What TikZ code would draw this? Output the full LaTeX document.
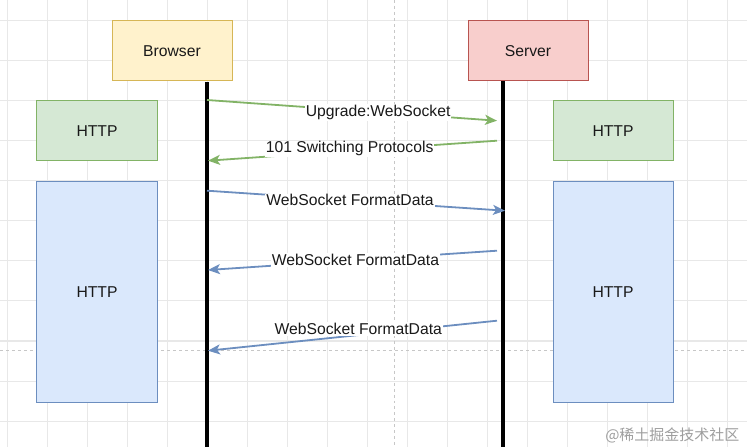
\documentclass[tikz,border=0pt]{standalone}
\usepackage{fontspec}
\setmainfont{Liberation Sans}
\newfontfamily\cjkfont{Noto Sans CJK SC}
\usetikzlibrary{arrows.meta,positioning}
\definecolor{gridgray}{HTML}{E8E8E8}
\definecolor{yfill}{HTML}{FFF2CC}\definecolor{ydraw}{HTML}{D6B656}
\definecolor{rfill}{HTML}{F8CECC}\definecolor{rdraw}{HTML}{B85450}
\definecolor{gfill}{HTML}{D5E8D4}\definecolor{gdraw}{HTML}{82B366}
\definecolor{bfill}{HTML}{DAE8FC}\definecolor{bdraw}{HTML}{6C8EBF}

\begin{document}
\begin{tikzpicture}[x=1bp,y=-1bp,
    font=\fontsize{15.7bp}{19bp}\selectfont,
    box/.style={draw,line width=1bp,minimum width=120bp,minimum height=60bp,inner sep=0pt,text=black!90},
    life/.style={line width=4bp},
    msg/.style={line width=1.8bp,-{Stealth[length=12bp,width=10bp,inset=3bp]}},
    lbl/.style={fill=white,inner sep=1bp,text=black!90}]

        \useasboundingbox (0,0) rectangle (747,447);

        % Lưới nền
        \foreach \x in {7,47,...,747} \draw[gridgray,line width=1bp] (\x,0) -- (\x,447);
        \foreach \y in {21,61,...,447} \draw[gridgray,line width=1bp] (0,\y) -- (747,\y);
        \draw[black!22,dashed,line width=1bp] (394,0) -- (394,447); % đường đứt dọc
        \draw[black!22,dashed,line width=1bp] (0,350) -- (747,350); % đường đứt ngang

        % Các khối
        \node[box,fill=yfill,draw=ydraw] (browser) at (172,51) {Browser};
        \node[box,fill=rfill,draw=rdraw] (server) at (528,51) {Server};
        \node[box,fill=gfill,draw=gdraw] (httpL) at (97,131) {HTTP};
        \node[box,fill=gfill,draw=gdraw] (httpR) at (613,131) {HTTP};
        \node[box,fill=bfill,draw=bdraw,minimum height=220bp,below=20bp of httpL] (wsL) {HTTP};
        \node[box,fill=bfill,draw=bdraw,minimum height=220bp,below=20bp of httpR] (wsR) {HTTP};

        % Đường sống
        \coordinate (bt) at (207,82); \coordinate (bb) at (207,447);
        \coordinate (st) at (503,81); \coordinate (sb) at (503,447);
        \draw[life] (bt) -- (bb);
        \draw[life] (st) -- (sb);

        % Các điểm đầu, cuối thông điệp
        \coordinate (b1) at (207,100);   \coordinate (s1) at (497,120.7);
        \coordinate (s2) at (497,140.7); \coordinate (b2) at (208,160.7);
        \coordinate (b3) at (207,190.7); \coordinate (s3) at (505,210.7);
        \coordinate (s4) at (497,250.7); \coordinate (b4) at (208,270);
        \coordinate (s5) at (497,320.7); \coordinate (b5) at (208,350.7);

        % Thông điệp
        \draw[msg,gdraw] (b1) -- node[lbl,pos=.59] (m1) {Upgrade:WebSocket} (s1);
        \draw[msg,gdraw] (s2) -- node[lbl,pos=.51,yshift=2bp] (m2) {101 Switching Protocols} (b2);
        \draw[msg,bdraw] (b3) -- node[lbl,pos=.48] (m3) {WebSocket FormatData} (s3);
        \draw[msg,bdraw] (s4) -- node[lbl,pos=.49] (m4) {WebSocket FormatData} (b4);
        \draw[msg,bdraw] (s5) -- node[lbl,pos=.48,yshift=6bp] (m5) {WebSocket FormatData} (b5);

        % Dấu nước
        \node[text=black!38,font=\cjkfont\fontsize{15bp}{18bp}\selectfont,anchor=east] (wm) at (743,435) {@稀土掘金技术社区};

\end{tikzpicture}
\end{document}
